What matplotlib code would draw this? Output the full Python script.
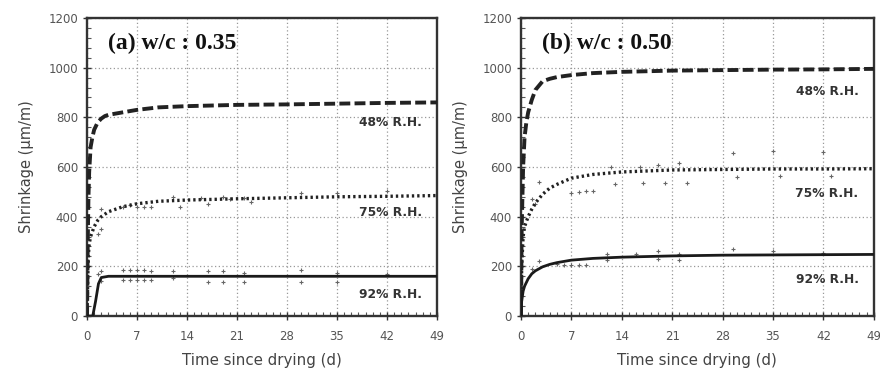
import matplotlib
matplotlib.use("Agg")
import matplotlib.pyplot as plt
from matplotlib.ticker import MultipleLocator

# ---------------- data ----------------
xticks = [0, 7, 14, 21, 28, 35, 42, 49]
yticks = [0, 200, 400, 600, 800, 1000, 1200]
titles = ["(a) w/c : 0.35", "(b) w/c : 0.50"]
rh_labels = ["48% R.H.", "75% R.H.", "92% R.H."]

# panel (a) w/c 0.35
a48_t = [0, 0.1, 0.2, 0.3, 0.5, 0.75, 1, 1.5, 2, 2.5, 3, 4, 5, 7, 10, 14, 21, 28, 35, 42, 49]
a48_v = [0, 300, 480, 580, 680, 720, 750, 780, 795, 805, 810, 815, 820, 830, 840, 845, 850, 852, 855, 858, 860]
a75_t = [0, 0.1, 0.2, 0.3, 0.5, 1, 1.5, 2, 3, 4, 5, 7, 10, 14, 21, 28, 35, 42, 49]
a75_v = [0, 150, 250, 290, 320, 360, 385, 400, 420, 430, 440, 452, 462, 467, 472, 476, 480, 482, 485]
a92_t = [0, 0.8, 1.2, 1.6, 2, 3, 7, 14, 21, 28, 35, 42, 49]
a92_v = [0, 0, 60, 130, 155, 160, 160, 160, 160, 160, 160, 160, 160]
a75_pt_t = [1.5, 2, 2, 5, 6, 7, 8, 9, 12, 13, 16, 17, 19, 20, 22, 23, 30, 35, 42]
a75_pt_v = [330, 350, 430, 440, 445, 440, 440, 440, 480, 440, 475, 450, 480, 470, 475, 460, 495, 495, 505]
a92_pt_t = [1.5, 2, 2, 5, 6, 7, 8, 9, 5, 6, 7, 8, 9, 12, 12, 17, 17, 19, 19, 22, 22, 30, 30, 35, 35, 42]
a92_pt_v = [170, 180, 140, 185, 185, 185, 185, 180, 145, 145, 145, 145, 145, 180, 155, 180, 135, 180, 135, 175, 135, 185, 135, 175, 135, 170]

# panel (b) w/c 0.50
b48_t = [0, 0.1, 0.3, 0.5, 0.75, 1, 1.5, 2, 3, 4, 5, 7, 10, 14, 21, 28, 35, 42, 49]
b48_v = [0, 350, 600, 720, 780, 820, 870, 910, 945, 955, 962, 970, 978, 983, 988, 990, 992, 993, 995]
b75_t = [0, 0.1, 0.3, 0.5, 1, 1.5, 2, 3, 4, 5, 7, 10, 14, 21, 28, 35, 42, 49]
b75_v = [0, 200, 320, 360, 400, 430, 455, 490, 515, 530, 555, 570, 580, 588, 590, 592, 592, 593]
b92_t = [0, 0.1, 0.3, 0.5, 1, 1.5, 2, 3, 4, 5, 7, 10, 14, 21, 28, 35, 42, 49]
b92_v = [0, 60, 100, 120, 150, 170, 182, 198, 208, 215, 225, 232, 237, 242, 245, 246, 247, 248]
b75_pt_t = [1.5, 2, 2.5, 7, 8, 9, 10, 12.5, 13, 16.5, 17, 19, 20, 22, 23, 29.5, 30, 35, 36, 42, 43]
b75_pt_v = [470, 450, 540, 495, 500, 505, 505, 600, 530, 600, 535, 610, 535, 615, 535, 655, 560, 665, 565, 660, 565]
b92_pt_t = [1.5, 2.5, 5, 6, 7, 8, 9, 12, 12, 16, 19, 19, 22, 22, 29.5, 35, 42]
b92_pt_v = [190, 220, 210, 205, 205, 205, 205, 250, 225, 250, 260, 230, 250, 225, 270, 260, 255]

# label positions (data coords)
label_y = [[781, 415, 85], [902, 495, 149]]

panels = [
    (a48_t, a48_v, a75_t, a75_v, a92_t, a92_v, a75_pt_t, a75_pt_v, a92_pt_t, a92_pt_v),
    (b48_t, b48_v, b75_t, b75_v, b92_t, b92_v, b75_pt_t, b75_pt_v, b92_pt_t, b92_pt_v),
]

fig = plt.figure(figsize=(8.8, 3.74), dpi=100)
rects = [[0.0989, 0.155, 0.3977, 0.797], [0.592, 0.155, 0.401, 0.797]]
tick_col = "#555555"

for i, (rect, p) in enumerate(zip(rects, panels)):
    ax = fig.add_axes(rect)
    t48, v48, t75, v75, t92, v92, pt75t, pt75v, pt92t, pt92v = p
    ax.plot(t48, v48, color="#222222", lw=2.8, linestyle=(0, (2.8, 1.1)), zorder=4)
    ax.plot(t75, v75, color="#222222", lw=2.4, linestyle=(0, (0.7, 0.9)), zorder=4)
    ax.plot(t92, v92, color="#1a1a1a", lw=2.0, linestyle="-", zorder=4)
    ax.scatter(pt75t, pt75v, marker="+", s=10, color="#666666", lw=0.8, zorder=3)
    ax.scatter(pt92t, pt92v, marker="+", s=10, color="#666666", lw=0.8, zorder=3)
    ax.set_xlim(0, 49)
    ax.set_ylim(0, 1200)
    ax.set_xticks(xticks)
    ax.set_yticks(yticks)
    ax.xaxis.set_minor_locator(MultipleLocator(1))
    ax.yaxis.set_minor_locator(MultipleLocator(40))
    ax.tick_params(axis="both", which="major", direction="inout", length=6, width=1.0,
                   labelsize=8.5, labelcolor=tick_col, color="#333333")
    ax.tick_params(axis="both", which="minor", direction="in", length=3, width=0.8, color="#555555")
    ax.tick_params(axis="x", pad=7)
    ax.grid(True, which="major", color="#999999", linestyle=(0, (1, 2)), lw=0.9)
    for s in ax.spines.values():
        s.set_linewidth(1.7)
        s.set_color("#333333")
    ax.set_xlabel("Time since drying (d)", fontsize=10.8, color="#444444", labelpad=7)
    ax.set_ylabel("Shrinkage (\u03bcm/m)", fontsize=10.5, color="#444444", labelpad=10)
    ax.text(2.9, 1099, titles[i], family="Liberation Serif", fontweight="bold",
            fontsize=17, va="center", ha="left", color="#111111", zorder=6)
    for lab, y in zip(rh_labels, label_y[i]):
        ax.text(42.5, y, lab, fontsize=8.8, fontweight="bold", color="#333333",
                ha="center", va="center", zorder=6)

fig.savefig("out.png", dpi=100)
